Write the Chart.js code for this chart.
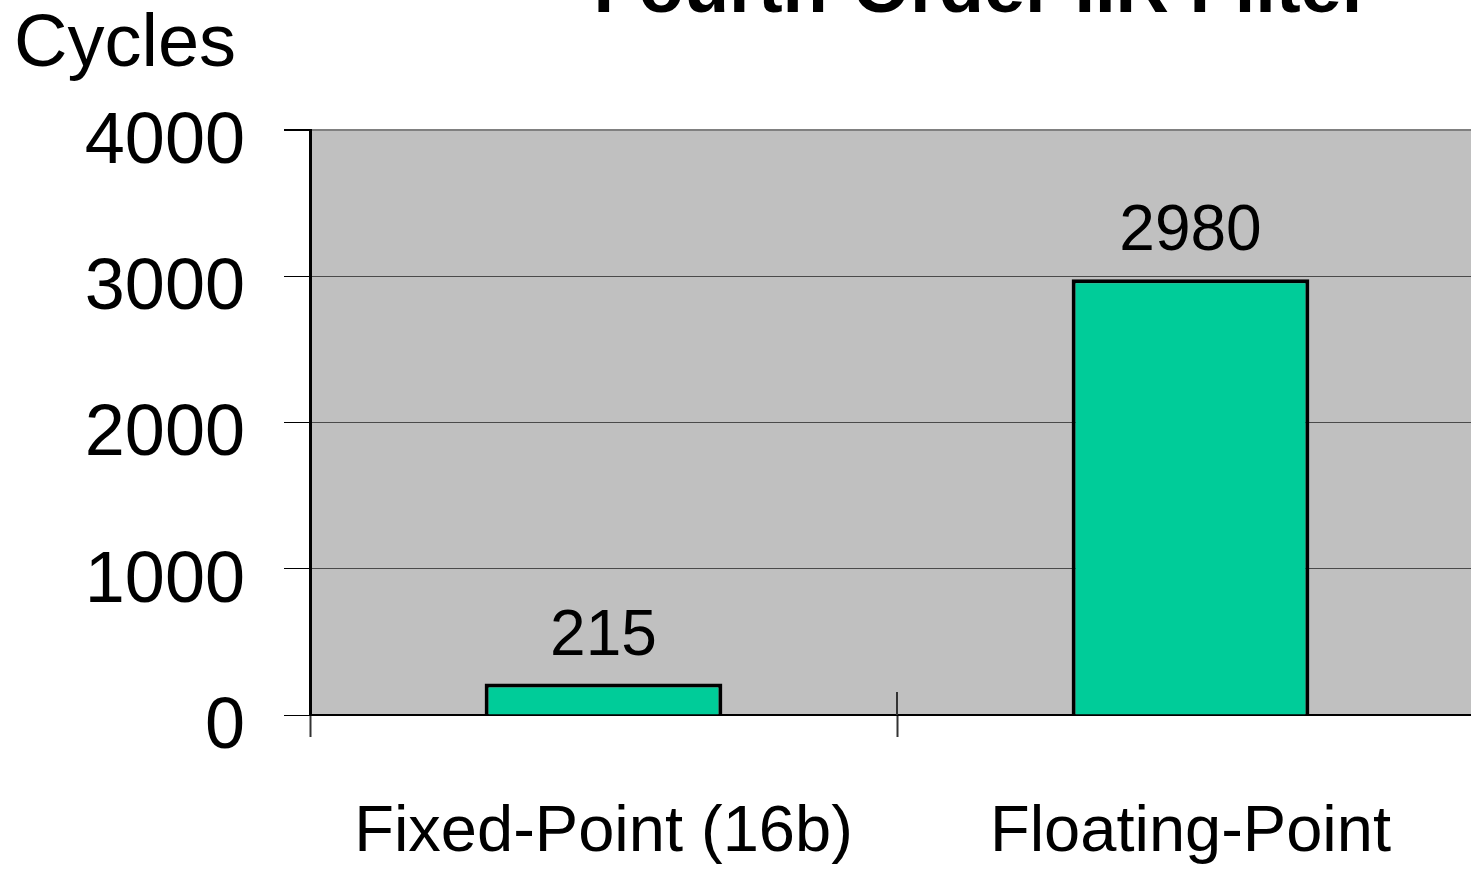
<!DOCTYPE html>
<html>
<head>
<meta charset="utf-8">
<script src="https://cdn.jsdelivr.net/npm/chart.js@4/dist/chart.umd.min.js"></script>
<style>
  html, body { margin: 0; padding: 0; background: #fff; overflow: hidden; }
  #wrap { width: 1500px; height: 872px; }
</style>
</head>
<body>
<div id="wrap"><canvas id="iir-cycles" width="1500" height="872"></canvas></div>
<script>

// data
const categories = ['Fixed-Point (16b)', 'Floating-Point'];
const cycleValues = [215, 2980];
const yTickValues = [0, 1000, 2000, 3000, 4000];
const chartTitle = 'Fourth-Order IIR Filter';
const yAxisTitle = 'Cycles';

const FONT = '"Liberation Sans", Arial, sans-serif';

// grey plot background, behind the bars
const plotBackground = {
    id: 'plotBackground',
    beforeDraw(chart) {
        const { ctx, chartArea } = chart;
        ctx.save();
        ctx.fillStyle = '#c0c0c0';
        ctx.fillRect(chartArea.left, chartArea.top, chartArea.right - chartArea.left, chartArea.bottom - chartArea.top);
        ctx.restore();
    }
};

// title, "Cycles", value labels and the cross ticks on the x axis
const extraText = {
    id: 'extraText',
    afterDraw(chart) {
        const { ctx, chartArea } = chart;
        const xScale = chart.scales.x;
        ctx.save();
        ctx.fillStyle = '#000';

        ctx.font = 'bold 74px ' + FONT;
        ctx.textAlign = 'center';
        ctx.textBaseline = 'alphabetic';
        ctx.fillText(chartTitle, 982, 12);

        ctx.font = '74px ' + FONT;
        ctx.textAlign = 'left';
        ctx.fillText(yAxisTitle, 14, 66);

        ctx.font = '64px ' + FONT;
        ctx.textAlign = 'center';
        chart.getDatasetMeta(0).data.forEach((bar, i) => {
            ctx.fillText(String(cycleValues[i]), bar.x, bar.y - 29);
        });

        // the inner category boundary tick also pokes up into the plot
        ctx.strokeStyle = '#333';
        ctx.lineWidth = 2;
        for (let i = 0; i < categories.length - 1; i++) {
            const x = Math.round((xScale.getPixelForTick(i) + xScale.getPixelForTick(i + 1)) / 2);
            ctx.beginPath();
            ctx.moveTo(x, chartArea.bottom - 23);
            ctx.lineTo(x, chartArea.bottom);
            ctx.stroke();
        }
        ctx.restore();
    }
};

const cyclesConfig = {
    type: 'bar',
    data: {
        labels: categories,
        datasets: [
            {
                data: cycleValues,
                backgroundColor: '#00cc99',
                borderColor: '#000',
                borderWidth: 4,
                categoryPercentage: 1,
                barPercentage: 0.405,
            }
        ]
    },
    options: {
        responsive: false,
        animation: false,
        layout: {
            padding: { top: 130, right: 16, left: 0, bottom: 0 }
        },
        plugins: {
            legend: { display: false },
            tooltip: { enabled: false },
        },
        scales: {
            x: {
                offset: true,
                border: { display: true, color: '#000', width: 2 },
                grid: {
                    offset: true,
                    drawOnChartArea: false,
                    tickLength: 22,
                    tickColor: '#333',
                    tickWidth: 2,
                },
                ticks: {
                    color: '#000',
                    font: { family: FONT, size: 65 },
                    padding: 57,
                    maxRotation: 0,
                    autoSkip: false,
                },
                afterFit(scale) { scale.height = 157; },
            },
            y: {
                min: 0,
                max: 4000,
                afterBuildTicks(scale) {
                    scale.ticks = yTickValues.map(v => ({ value: v }));
                },
                border: { display: true, color: '#000', width: 3 },
                grid: {
                    tickLength: 26,
                    tickColor: '#000',
                    color: ctx => ctx.tick && ctx.tick.value === 4000 ? '#808080' : '#4a4a4a',
                    lineWidth: ctx => ctx.tick && ctx.tick.value === 4000 ? 2 : 1,
                },
                ticks: {
                    color: '#000',
                    font: { family: FONT, size: 72 },
                    padding: 39,
                    labelOffset: 13,
                    callback: value => String(value),
                },
                afterFit(scale) { scale.width = 310; },
            }
        }
    },
    plugins: [plotBackground, extraText]
};

let cyclesChart = new Chart(
    document.getElementById('iir-cycles'),
    cyclesConfig
);
</script>
</body>
</html>
